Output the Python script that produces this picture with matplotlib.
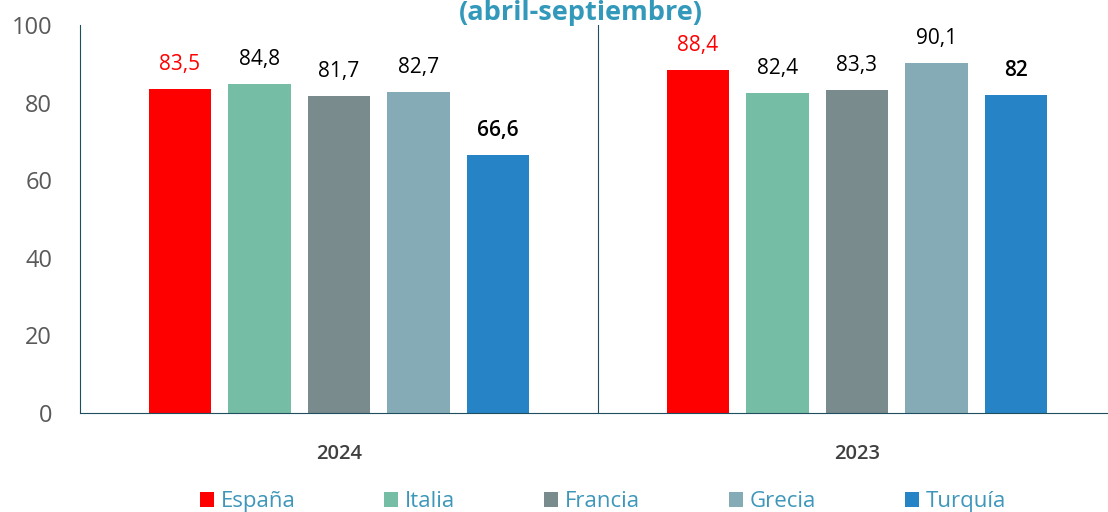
import matplotlib.pyplot as plt
import numpy as np

years = ["2024", "2023"]
countries = ["España", "Italia", "Francia", "Grecia", "Turquía"]
v2024 = [83.5, 84.8, 81.7, 82.7, 66.6]
v2023 = [88.4, 82.4, 83.3, 90.1, 82]
labels2024 = ["83,5", "84,8", "81,7", "82,7", "66,6"]
labels2023 = ["88,4", "82,4", "83,3", "90,1", "82"]

colors = ["#FF0000", "#76BDA5", "#7A8B8D", "#85ACB6", "#2683C6"]
lab_colors = ["#FF0000", "black", "black", "black", "black"]
lab_weights = ["normal", "normal", "normal", "normal", "semibold"]

plt.rcParams['font.family'] = ['Open Sans', 'DejaVu Sans']

fig = plt.figure(figsize=(11.08, 5.12), dpi=100)
ax = fig.add_axes([80/1108, 99/512, 1036/1108, 388/512])

step = 0.1535
width = 0.12
offsets = (np.arange(5) - 2) * step
data = [v2024, v2023]
labs = [labels2024, labels2023]

for g in range(2):
    for i in range(5):
        x = g + offsets[i]
        ax.bar(x, data[g][i], width, color=colors[i],
               label=countries[i] if g == 0 else None)
        ax.text(x, data[g][i] + 3.6, labs[g][i], ha='center', va='bottom',
                fontsize=15, color=lab_colors[i], fontweight=lab_weights[i])

ax.axvline(0.5, color="#1F4E5F", lw=0.8)
ax.set_xlim(-0.5, 1.5)
ax.set_ylim(0, 100)
ax.set_yticks([0, 20, 40, 60, 80, 100])
ax.set_xticks([0, 1])
ax.set_xticklabels(years, fontsize=14.5, color="#404040", fontweight='semibold')
ax.tick_params(axis='y', length=0, labelsize=17, labelcolor="#595959", pad=20)
ax.tick_params(axis='x', length=0, pad=22)
for s in ['top', 'right']:
    ax.spines[s].set_visible(False)
for s in ['left', 'bottom']:
    ax.spines[s].set_color("#1F4E5F")
    ax.spines[s].set_linewidth(0.8)

fig.text(0.5245, 0.975, "(abril-septiembre)", ha='center', va='center',
         fontsize=19.5, fontweight='bold', color="#3399BB")

leg = fig.legend(loc='center', bbox_to_anchor=(0.544, 0.02), ncol=5,
                 frameon=False, fontsize=16, handlelength=0.63, handleheight=0.63,
                 handletextpad=0.3, columnspacing=4.0)
for t in leg.get_texts():
    t.set_color("#3E97BB")

fig.savefig("out.png", dpi=100)
